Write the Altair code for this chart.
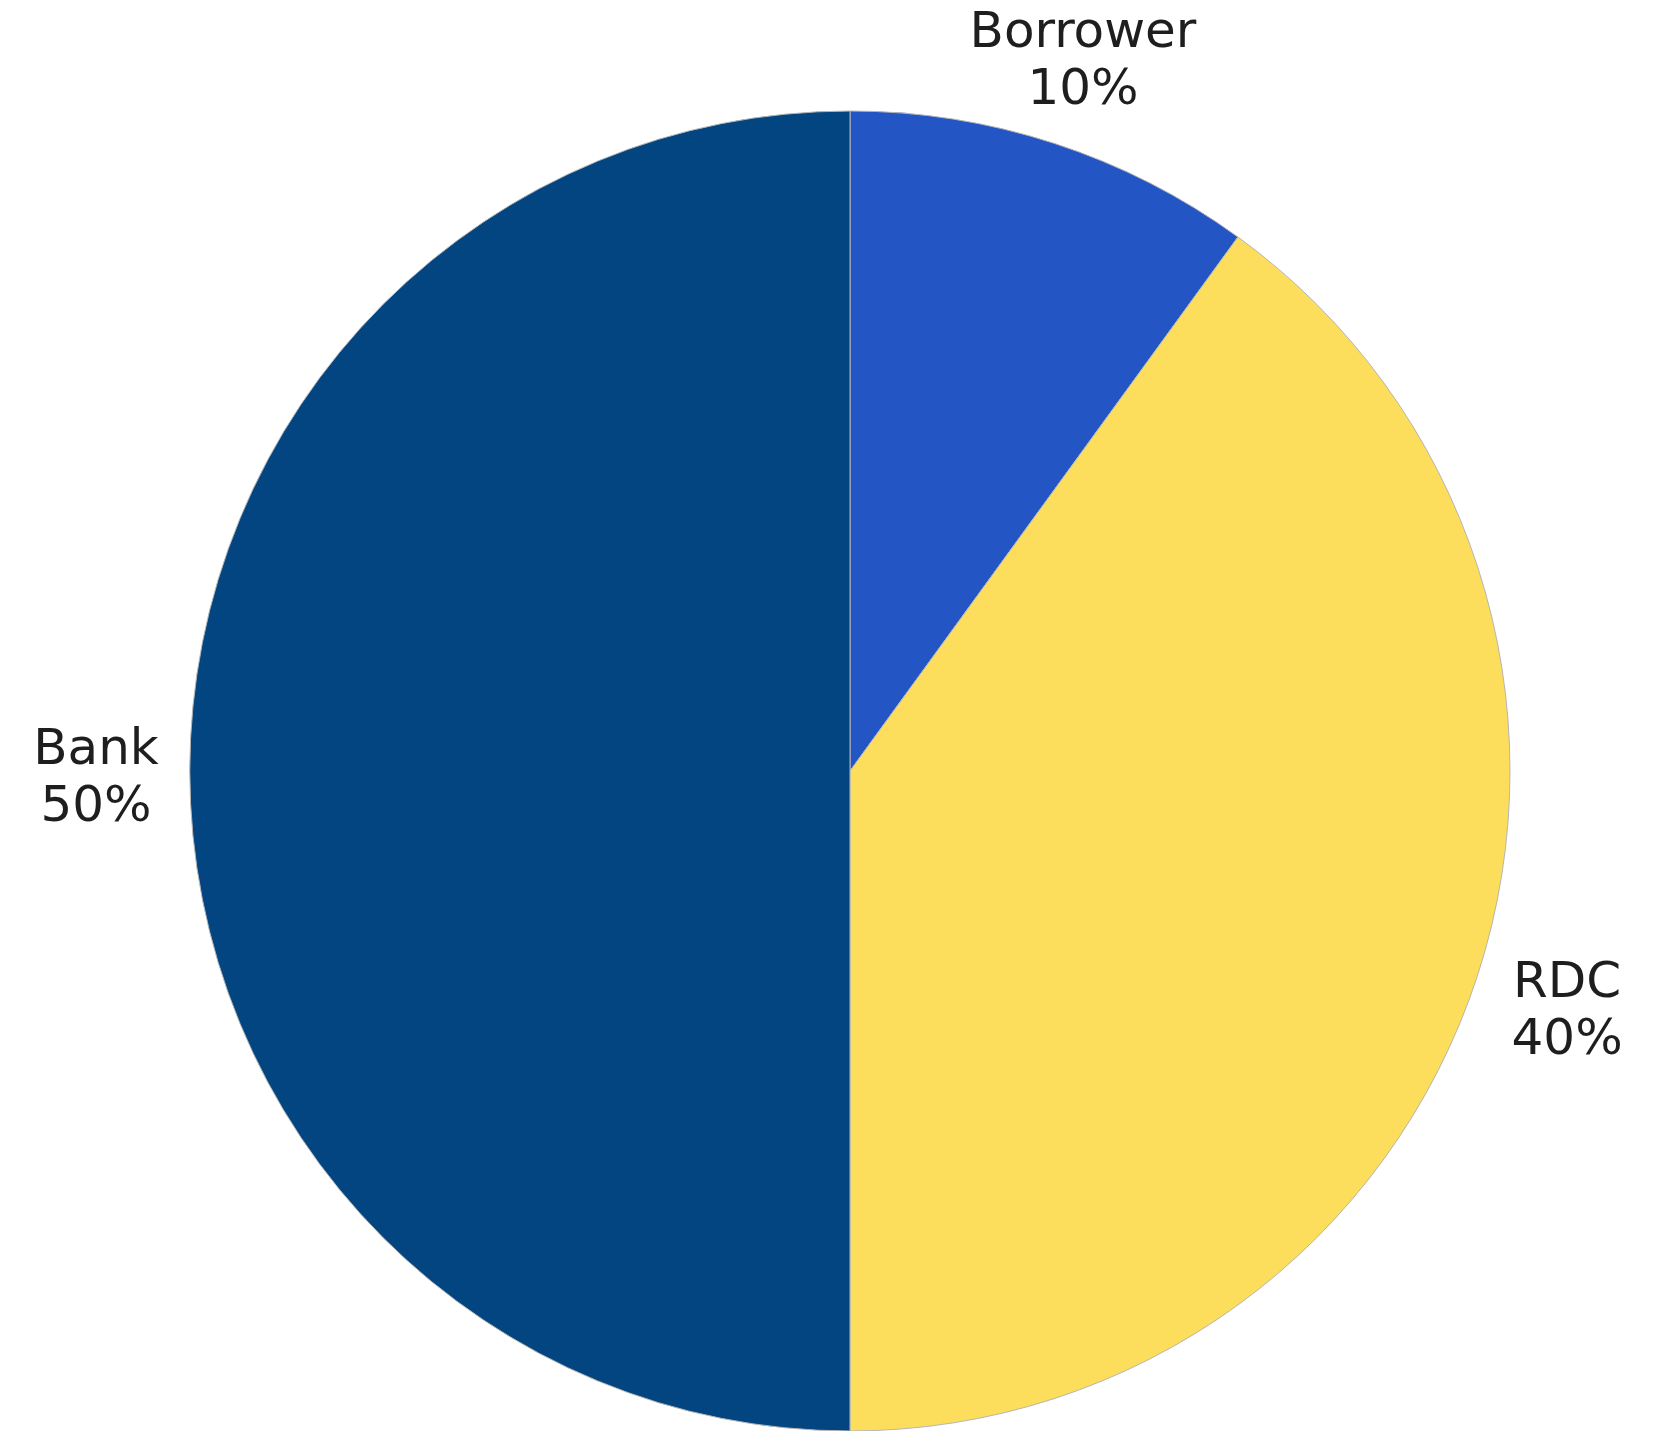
import altair as alt
import pandas as pd

categories = ["Borrower", "RDC", "Bank"]
shares = [10, 40, 50]
colors = ["#2355C4", "#FDDE5C", "#034580"]

df = pd.DataFrame({
    "category": categories,
    "share": shares,
    "order": list(range(len(categories))),
})
df["label"] = df["category"] + "\n" + df["share"].astype(str) + "%"

CX, CY, R = 850, 771, 660

base = alt.Chart(df).encode(
    theta=alt.Theta("share:Q", stack=True),
    order=alt.Order("order:Q"),
)

pie = base.mark_arc(radius=R, stroke="#b5b5b5", strokeWidth=1).encode(
    x=alt.value(CX),
    y=alt.value(CY),
    color=alt.Color("category:N", scale=alt.Scale(domain=categories, range=colors), legend=None),
)

text = base.mark_text(
    radius=754, fontSize=50, font="DejaVu Sans", lineBreak="\n", lineHeight=57,
    align="center", baseline="middle", color="#1e1e1e", dy=-22,
).encode(
    x=alt.value(CX),
    y=alt.value(CY),
    text="label:N",
)

chart = alt.layer(pie, text).properties(
    width=1668, height=1431, padding=0,
    autosize=alt.AutoSizeParams(type="none"),
).configure_view(stroke=None)

chart.save("out.html", embed_options={"renderer": "svg", "actions": False})
